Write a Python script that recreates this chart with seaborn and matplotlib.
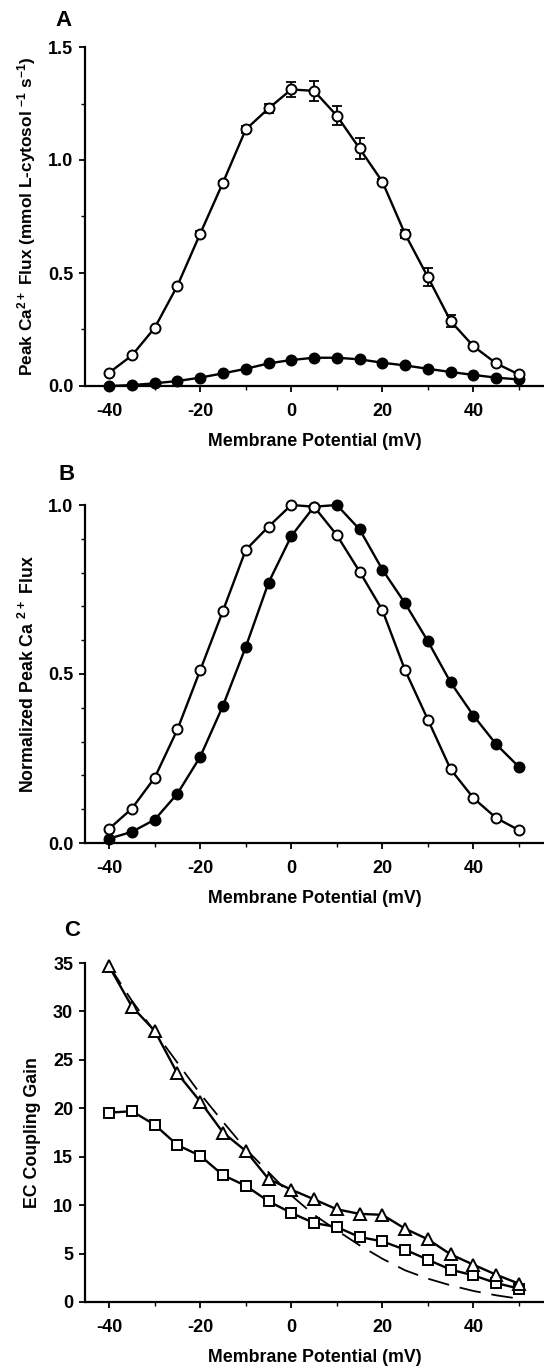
import numpy as np
import matplotlib
matplotlib.use("Agg")
import matplotlib.pyplot as plt
import seaborn as sns
from matplotlib.ticker import MultipleLocator

# ---------------- data ----------------
voltage = [-40, -35, -30, -25, -20, -15, -10, -5, 0, 5, 10, 15, 20, 25, 30, 35, 40, 45, 50]

# Panel A: peak Ca2+ flux (mmol L-cytosol^-1 s^-1)
flux_open = [0.059, 0.135, 0.257, 0.444, 0.674, 0.900, 1.135, 1.228, 1.312, 1.306,
             1.196, 1.051, 0.904, 0.672, 0.482, 0.287, 0.176, 0.100, 0.051]
flux_open_err = [0.004, 0.004, 0.005, 0.005, 0.01, 0.008, 0.015, 0.022, 0.035, 0.045,
                 0.043, 0.048, 0.012, 0.018, 0.040, 0.026, 0.008, 0.006, 0.005]
flux_filled = [0.000, 0.004, 0.012, 0.022, 0.037, 0.056, 0.076, 0.100, 0.115, 0.125,
               0.125, 0.118, 0.103, 0.091, 0.076, 0.062, 0.049, 0.037, 0.029]

# Panel B: normalized peak flux
norm_open = [0.042, 0.102, 0.193, 0.336, 0.511, 0.687, 0.867, 0.936, 1.000, 0.995,
             0.911, 0.803, 0.689, 0.511, 0.365, 0.218, 0.133, 0.074, 0.038]
norm_filled = [0.013, 0.033, 0.069, 0.146, 0.255, 0.406, 0.580, 0.770, 0.908, 0.995,
               1.000, 0.928, 0.809, 0.709, 0.597, 0.475, 0.377, 0.292, 0.225]

# Panel C: EC coupling gain
gain_triangle = [34.65, 30.5, 28.0, 23.6, 20.7, 17.5, 15.6, 12.7, 11.6, 10.6,
                 9.57, 9.1, 9.0, 7.57, 6.47, 4.92, 3.85, 2.82, 1.89]
gain_square = [19.55, 19.7, 18.3, 16.2, 15.1, 13.1, 12.0, 10.4, 9.2, 8.15,
               7.74, 6.71, 6.26, 5.40, 4.37, 3.34, 2.75, 1.96, 1.38]
gain_fit = [34.7, 31.1, 27.9, 24.7, 21.5, 18.6, 15.8, 13.4, 11.0, 9.0,
            7.4, 5.85, 4.47, 3.27, 2.41, 1.72, 1.14, 0.69, 0.34]

xticks = [-40, -20, 0, 20, 40]

# ---------------- style ----------------
sns.set_style("ticks")
plt.rcParams["font.family"] = ["Liberation Sans", "DejaVu Sans"]
plt.rcParams["font.weight"] = "bold"
plt.rcParams["axes.labelweight"] = "bold"
plt.rcParams["text.color"] = "black"
plt.rcParams["axes.labelcolor"] = "black"
plt.rcParams["xtick.color"] = "black"
plt.rcParams["ytick.color"] = "black"
plt.rcParams["axes.unicode_minus"] = False
plt.rcParams["mathtext.fontset"] = "custom"
plt.rcParams["mathtext.rm"] = "Liberation Sans:bold"
plt.rcParams["mathtext.bf"] = "Liberation Sans:bold"
plt.rcParams["mathtext.default"] = "rm"

W, H = 544, 1366
fig = plt.figure(figsize=(W / 100, H / 100), dpi=100)

def px_axes(left, right, top, bottom):
    return fig.add_axes([left / W, 1 - bottom / H, (right - left) / W, (bottom - top) / H])

axA = px_axes(85, 544, 47, 386)
axB = px_axes(85, 544, 505, 843)
axC = px_axes(85, 544, 963, 1302)

lw = 1.7
ms = 7.2
mew = 1.4
TICK_FS = 13
LAB_FS = 12.8

def style_axis(ax, ymax, ymajor, yminor, yfmt):
    ax.set_xlim(-45.3, 55.5)
    ax.set_ylim(0, ymax)
    sns.despine(ax=ax)
    for s in ["left", "bottom"]:
        ax.spines[s].set_linewidth(1.6)
        ax.spines[s].set_color("black")
    ax.set_xticks(xticks)
    ax.xaxis.set_minor_locator(MultipleLocator(10))
    ax.yaxis.set_major_locator(MultipleLocator(ymajor))
    ax.yaxis.set_minor_locator(MultipleLocator(yminor))
    ax.yaxis.set_major_formatter(plt.FormatStrFormatter(yfmt))
    ax.tick_params(axis="both", which="major", direction="out", length=4.5, width=1.3,
                   labelsize=TICK_FS, colors="black", pad=4)
    ax.tick_params(axis="both", which="minor", direction="out", length=3, width=1.0,
                   colors="black")
    ax.tick_params(axis="x", which="major", pad=8)
    for lab in ax.get_xticklabels() + ax.get_yticklabels():
        lab.set_fontweight("bold")
    ax.set_xlabel("Membrane Potential (mV)", fontsize=LAB_FS, fontweight="bold", labelpad=9)

def draw(ax, y, marker, face, size=ms, **kw):
    sns.lineplot(x=voltage, y=y, ax=ax, color="black", linewidth=lw, marker=marker,
                 markersize=size, markerfacecolor=face, markeredgecolor="black",
                 markeredgewidth=mew, clip_on=False, zorder=3, **kw)

# Panel A
ax = axA
ax.errorbar(voltage, flux_open, yerr=flux_open_err, fmt="none", ecolor="black",
            elinewidth=1.3, capsize=3.5, capthick=1.3, zorder=2)
draw(ax, flux_filled, "o", "black")
draw(ax, flux_open, "o", "white")
style_axis(ax, 1.5, 0.5, 0.25, "%.1f")
ax.set_ylabel(r"Peak Ca$^{2+}$ Flux (mmol L-cytosol $^{-1}$ s$^{-1}$)", fontsize=12.4,
              fontweight="bold", labelpad=7)

# Panel B
ax = axB
draw(ax, norm_filled, "o", "black")
draw(ax, norm_open, "o", "white")
style_axis(ax, 1.0, 0.5, 0.1, "%.1f")
ax.set_ylabel(r"Normalized Peak Ca $^{2+}$ Flux", fontsize=LAB_FS, fontweight="bold", labelpad=7)

# Panel C
ax = axC
sns.lineplot(x=voltage, y=gain_fit, ax=ax, color="black", linewidth=1.3,
             linestyle=(0, (12, 6)), zorder=2)
draw(ax, gain_square, "s", "white", size=7.4)
draw(ax, gain_triangle, "^", "white", size=8.0)
style_axis(ax, 35, 5, 5, "%d")
ax.set_ylabel("EC Coupling Gain", fontsize=LAB_FS, fontweight="bold", labelpad=9)

for ax, letter, (x, y) in [(axA, "A", (63, 20)), (axB, "B", (67, 475)), (axC, "C", (72, 930))]:
    fig.text(x / W, 1 - y / H, letter, fontsize=16, fontweight="bold", ha="center", va="center")

fig.savefig("out.png", dpi=100)
